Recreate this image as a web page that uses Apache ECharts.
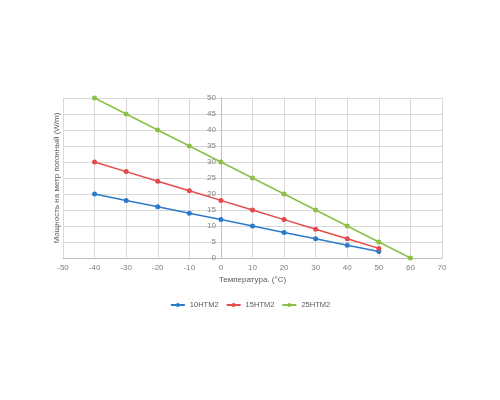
<!DOCTYPE html>
<html><head><meta charset="utf-8">
<script src="https://cdn.jsdelivr.net/npm/echarts@6/dist/echarts.min.js"></script>
<style>html,body{margin:0;padding:0;background:#fff}#c{width:500px;height:400px}</style>
</head><body><div id="c"></div>
<script>
const temps = [-40,-30,-20,-10,0,10,20,30,40,50,60];
const s10 = [20,18,16,14,12,10,8,6,4,2];
const s15 = [30,27,24,21,18,15,12,9,6,3];
const s25 = [50,45,40,35,30,25,20,15,10,5,0];
const names = ['10НТМ2','15НТМ2','25НТМ2'];
const colors = ['#2b7bcb','#e34a4a','#8cbf45'];
const pairs = a => a.map((v,i)=>[temps[i],v]);
const font = 'Liberation Sans';
const chart = echarts.init(document.getElementById('c'));
chart.setOption({
  animation:false,
  textStyle:{fontFamily:font},
  grid:{left:63,right:58,top:98,bottom:142,containLabel:false,outerBoundsMode:'none'},
  legend:{top:296,left:'center',itemWidth:14,itemHeight:5,itemGap:7,
    textStyle:{fontSize:7.5,color:'#595959',fontFamily:font},
    data:names},
  xAxis:{type:'value',min:-50,max:70,interval:10,
    name:'Температура. (°C)',nameLocation:'middle',nameGap:18,
    nameTextStyle:{fontSize:8,color:'#595959'},
    axisLine:{lineStyle:{color:'#bfbfbf'}},axisTick:{show:false},
    axisLabel:{fontSize:8,color:'#7f7f7f',margin:6},
    splitLine:{show:true,lineStyle:{color:'#d9d9d9'}}},
  yAxis:{type:'value',min:0,max:50,interval:5,position:'left',offset:-158,
    name:'Мощность на метр погонный (W/m)',nameLocation:'middle',nameGap:160,
    nameTextStyle:{fontSize:8,color:'#595959'},
    axisLine:{show:true,onZero:false,lineStyle:{color:'#bfbfbf'}},axisTick:{show:false},
    axisLabel:{fontSize:8,color:'#7f7f7f',margin:5},
    splitLine:{show:true,lineStyle:{color:'#d9d9d9'}}},
  series:[s10,s15,s25].map((d,i)=>({
    name:names[i],type:'line',data:pairs(d),symbol:'circle',symbolSize:5,
    lineStyle:{width:1.5,color:colors[i]},itemStyle:{color:colors[i]}
  }))
});
</script></body></html>
